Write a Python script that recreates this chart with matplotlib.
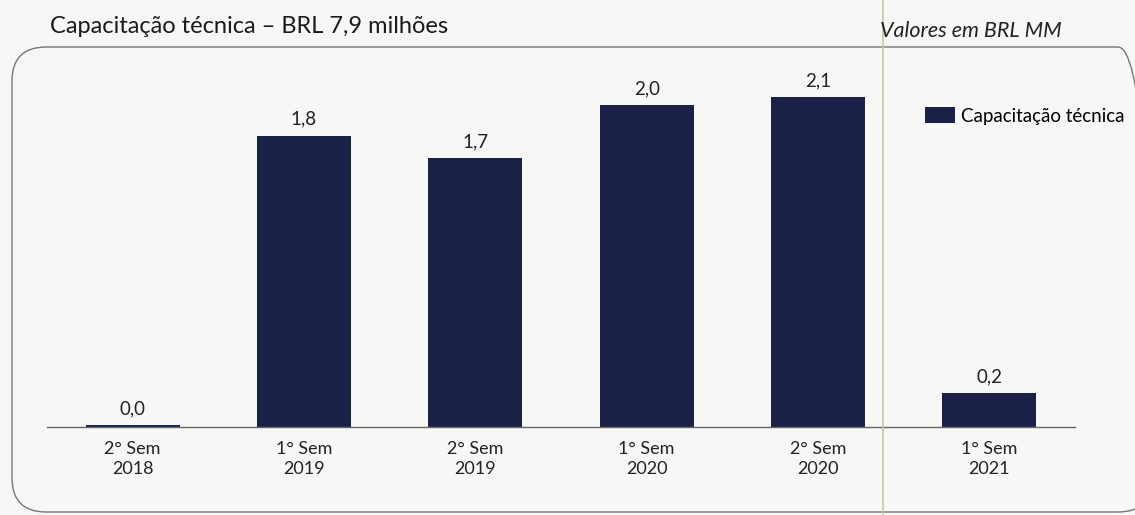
import matplotlib
matplotlib.use("Agg")
import matplotlib.pyplot as plt
from matplotlib.patches import FancyBboxPatch
from matplotlib.lines import Line2D

categories = ["2° Sem\n2018", "1° Sem\n2019", "2° Sem\n2019", "1° Sem\n2020", "2° Sem\n2020", "1° Sem\n2021"]
values = [0.01, 1.82, 1.68, 2.01, 2.06, 0.21]
labels = ["0,0", "1,8", "1,7", "2,0", "2,1", "0,2"]
series_name = "Capacitação técnica"
title = "Capacitação técnica – BRL 7,9 milhões"
unit_note = "Valores em BRL MM"

plt.rcParams['font.family'] = ['Lato', 'DejaVu Sans']
bg = "#f7f7f6"
bar_color = "#1b2046"
W, H = 1135, 515

fig = plt.figure(figsize=(W / 100, H / 100), dpi=100, facecolor=bg)

# rounded frame
frame = FancyBboxPatch((12 / W, 3 / H), 1140 / W, 465 / H,
                       boxstyle="round,pad=0,rounding_size=0.03",
                       transform=fig.transFigure, facecolor="none",
                       edgecolor="#777777", linewidth=1.0, mutation_aspect=W / H)
fig.patches.append(frame)

ax = fig.add_axes([47 / W, (H - 427) / H, (1075 - 47) / W, 367 / H])
ax.set_facecolor("none")
x = list(range(len(categories)))
ax.bar(x, values, width=0.55, color=bar_color, label=series_name, zorder=2)
for xi, v, lab in zip(x, values, labels):
    ax.text(xi, v + 0.05, lab, ha="center", va="bottom", fontsize=13.5, color="#222222")

ax.set_xlim(-0.5, 5.5)
ax.set_ylim(0, 367 / 160)
ax.set_xticks(x)
ax.set_xticklabels(categories, fontsize=13, color="#222222", linespacing=1.3)
ax.tick_params(axis="x", length=0, pad=10)
ax.set_yticks([])
for s in ["top", "right", "left"]:
    ax.spines[s].set_visible(False)
ax.spines["bottom"].set_color("#666666")
ax.spines["bottom"].set_linewidth(1.0)

ax.legend(loc="center left", bbox_to_anchor=(925 / W, 1 - 116 / H),
          bbox_transform=fig.transFigure, frameon=False, borderpad=0,
          fontsize=13.5, handlelength=1.6, handleheight=0.95, handletextpad=0.3,
          borderaxespad=0)

fig.text(50 / W, 1 - 33 / H, title, fontsize=17, ha="left", va="baseline", color="#1a1a1a")
fig.text(1062 / W, 1 - 37 / H, unit_note, fontsize=15.5, ha="right", va="baseline",
         style="italic", color="#222222")

# scan fold line
fig.lines.append(Line2D([883 / W, 883 / W], [0, 1], transform=fig.transFigure,
                        color="#c9c79a", linewidth=1.2))

fig.savefig("out.png", dpi=100, facecolor=bg)
